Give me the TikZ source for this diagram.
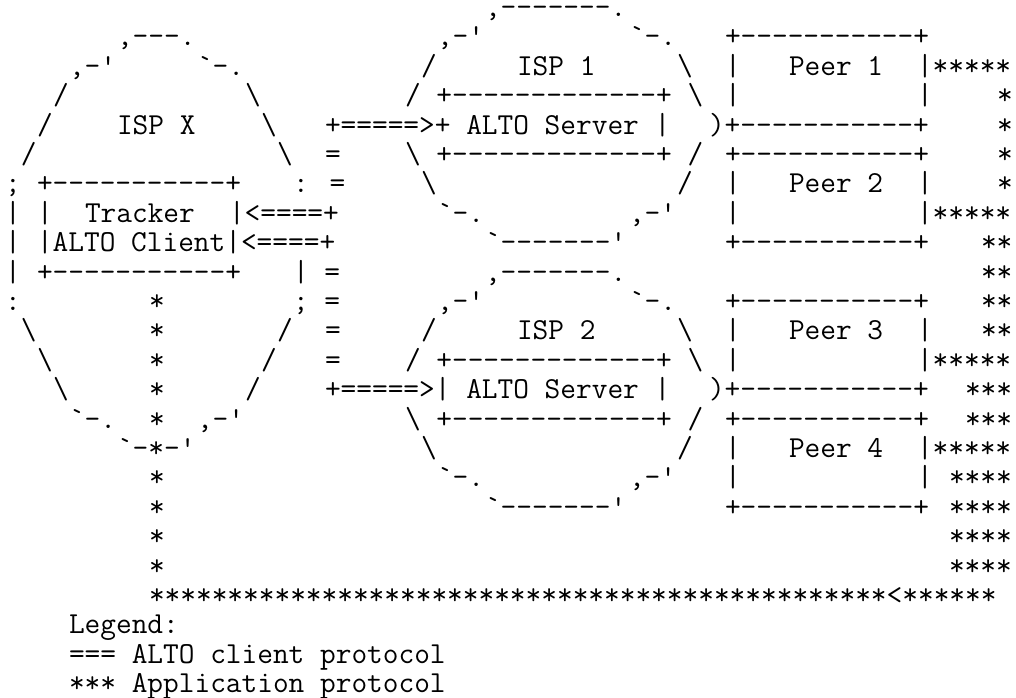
\documentclass[tikz,border=0pt]{standalone}
\usepackage{fontspec}
\tikzset{ascii/.style={anchor=base west, inner sep=0pt, outer sep=0pt,
  font=\ttfamily\fontsize{22.857pt}{22.857pt}\selectfont}}
% one piece of the figure: column, row, text
\newcommand\asc[3]{\node[ascii] (r#2c#1) at ({#1+0.3125},{#2-0.439}) {#3};}
\newcommand\bs{\textbackslash}
\begin{document}
\begin{tikzpicture}[x=12pt, y=-22.05pt]
	\useasboundingbox[fill=white] (0,0) rectangle (63.5,23.741);
	% row 1-2
	\asc{30}{1}{,-------.}
	\asc{7}{2}{,---.} \asc{27}{2}{,-'} \asc{39}{2}{`-.} \asc{45}{2}{+-----------+}
	% ISP 1, Peer 1
	\asc{4}{3}{,-'} \asc{12}{3}{`-.} \asc{26}{3}{/} \asc{32}{3}{ISP 1} \asc{42}{3}{\bs}
	\asc{45}{3}{|} \asc{49}{3}{Peer 1} \asc{57}{3}{|*****}
	\asc{3}{4}{/} \asc{15}{4}{\bs} \asc{25}{4}{/ +-------------+ \bs}
	\asc{45}{4}{|} \asc{57}{4}{|} \asc{62}{4}{*}
	\asc{2}{5}{/} \asc{7}{5}{ISP X} \asc{16}{5}{\bs} \asc{20}{5}{+=====>+ ALTO Server |}
	\asc{44}{5}{)+-----------+} \asc{62}{5}{*}
	\asc{1}{6}{/} \asc{17}{6}{\bs} \asc{20}{6}{=} \asc{25}{6}{\bs{} +-------------+ /}
	\asc{45}{6}{+-----------+} \asc{62}{6}{*}
	% tracker, Peer 2
	\asc{0}{7}{;} \asc{2}{7}{+-----------+} \asc{18}{7}{: =} \asc{26}{7}{\bs} \asc{42}{7}{/}
	\asc{45}{7}{|} \asc{49}{7}{Peer 2} \asc{57}{7}{|} \asc{62}{7}{*}
	\asc{0}{8}{|} \asc{2}{8}{|} \asc{5}{8}{Tracker} \asc{14}{8}{|<====+}
	\asc{27}{8}{`-.} \asc{39}{8}{,-'} \asc{45}{8}{|} \asc{57}{8}{|*****}
	\asc{0}{9}{|} \asc{2}{9}{|ALTO Client|<====+} \asc{30}{9}{`-------'}
	\asc{45}{9}{+-----------+} \asc{61}{9}{**}
	\asc{0}{10}{|} \asc{2}{10}{+-----------+} \asc{18}{10}{| =} \asc{30}{10}{,-------.}
	\asc{61}{10}{**}
	% ISP 2, Peer 3
	\asc{0}{11}{:} \asc{9}{11}{*} \asc{18}{11}{; =} \asc{27}{11}{,-'} \asc{39}{11}{`-.}
	\asc{45}{11}{+-----------+} \asc{61}{11}{**}
	\asc{1}{12}{\bs} \asc{9}{12}{*} \asc{17}{12}{/} \asc{20}{12}{=} \asc{26}{12}{/}
	\asc{32}{12}{ISP 2} \asc{42}{12}{\bs} \asc{45}{12}{|} \asc{49}{12}{Peer 3} \asc{57}{12}{|}
	\asc{61}{12}{**}
	\asc{2}{13}{\bs} \asc{9}{13}{*} \asc{16}{13}{/} \asc{20}{13}{=} \asc{25}{13}{/ +-------------+ \bs}
	\asc{45}{13}{|} \asc{57}{13}{|*****}
	\asc{3}{14}{\bs} \asc{9}{14}{*} \asc{15}{14}{/} \asc{20}{14}{+=====>| ALTO Server |}
	\asc{44}{14}{)+-----------+} \asc{60}{14}{***}
	\asc{4}{15}{`-.} \asc{9}{15}{*} \asc{12}{15}{,-'} \asc{25}{15}{\bs{} +-------------+ /}
	\asc{45}{15}{+-----------+} \asc{60}{15}{***}
	% Peer 4
	\asc{7}{16}{`-*-'} \asc{26}{16}{\bs} \asc{42}{16}{/} \asc{45}{16}{|} \asc{49}{16}{Peer 4}
	\asc{57}{16}{|*****}
	\asc{9}{17}{*} \asc{27}{17}{`-.} \asc{39}{17}{,-'} \asc{45}{17}{|} \asc{57}{17}{|}
	\asc{59}{17}{****}
	\asc{9}{18}{*} \asc{30}{18}{`-------'} \asc{45}{18}{+-----------+} \asc{59}{18}{****}
	\asc{9}{19}{*} \asc{59}{19}{****}
	\asc{9}{20}{*} \asc{59}{20}{****}
	\asc{9}{21}{***********************************************<******}
	% legend
	\asc{4}{22}{Legend:}
	\asc{4}{23}{=== ALTO client protocol}
	\asc{4}{24}{*** Application protocol}
\end{tikzpicture}
\end{document}
